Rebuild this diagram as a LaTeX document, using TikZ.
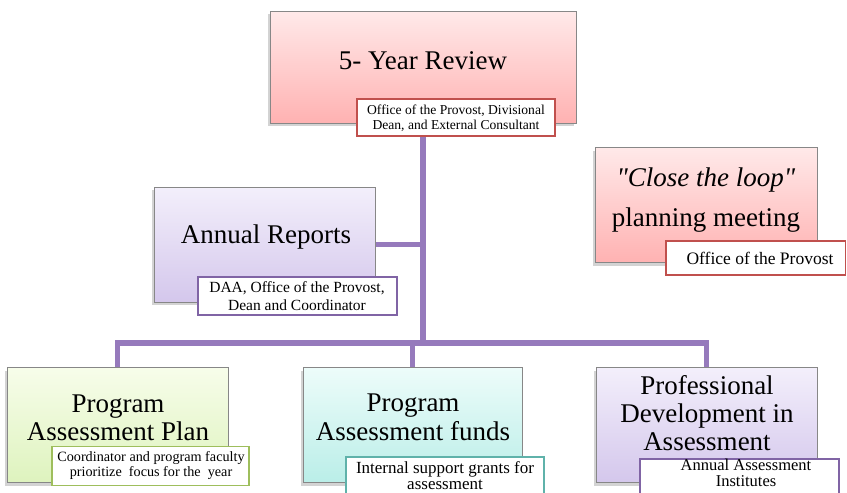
\documentclass[tikz,border=0pt]{standalone}
\usepackage{fontspec}
\setmainfont{Liberation Serif}
\usetikzlibrary{shadows,backgrounds}
\definecolor{conncol}{RGB}{150,122,188}
\definecolor{boxgray}{RGB}{135,135,135}
\definecolor{redtop}{RGB}{255,233,233}
\definecolor{redbot}{RGB}{255,178,178}
\definecolor{purtop}{RGB}{243,239,251}
\definecolor{purbot}{RGB}{212,199,236}
\definecolor{grntop}{RGB}{247,253,234}
\definecolor{grnbot}{RGB}{222,243,190}
\definecolor{cyntop}{RGB}{237,252,250}
\definecolor{cynbot}{RGB}{186,238,232}
\definecolor{redline}{RGB}{192,80,77}
\definecolor{purline}{RGB}{128,100,165}
\definecolor{grnline}{RGB}{158,190,92}
\definecolor{cynline}{RGB}{95,178,170}
\tikzset{
  mainbox/.style={draw=boxgray, line width=0.8pt, inner sep=0pt,
    drop shadow={shadow xshift=-2pt,shadow yshift=-3pt,opacity=0.35}},
  redbox/.style={mainbox, top color=redtop, bottom color=redbot},
  purbox/.style={mainbox, top color=purtop, bottom color=purbot},
  grnbox/.style={mainbox, top color=grntop, bottom color=grnbot},
  cynbox/.style={mainbox, top color=cyntop, bottom color=cynbot},
  subbox/.style={line width=1.1pt, fill=white, inner sep=0pt},
  maintext/.style={font=\fontsize{27}{28.5}\selectfont, align=center, inner sep=0pt},
  subtext/.style={align=center, inner sep=0pt},
  conn/.style={draw=conncol, line width=5.5pt}
}
\begin{document}
\begin{tikzpicture}[x=1pt,y=-1pt]
\useasboundingbox (0,0) rectangle (847,493);

% Top box
\node[redbox, minimum width=306pt, minimum height=112pt] (top) at (423,67) {};
\node[maintext] (toptext) at (423,61) {5- Year Review};
\node[subbox, draw=redline, minimum width=198pt, minimum height=37pt] (s1) at (456,117.5) {};
\node[subtext, font=\fontsize{13.6}{15}\selectfont] (s1t) at (456,118.5) {Office of the Provost, Divisional\\Dean, and External Consultant};

% Annual reports
\node[purbox, minimum width=221pt, minimum height=115pt] (ann) at (264.5,244.5) {};
\node[maintext] (anntext) at (266,237) {Annual Reports};
\node[subbox, draw=purline, minimum width=199pt, minimum height=38pt] (s2) at (297.5,296) {};
\node[subtext, font=\fontsize{15.5}{18}\selectfont] (s2t) at (297,296.5) {DAA, Office of the Provost,\\Dean and Coordinator};

% Close the loop
\node[redbox, minimum width=222pt, minimum height=115pt] (loop) at (706,205) {};
\node[maintext, font=\fontsize{27}{40}\selectfont] (looptext) at (706,200) {\textit{\textquotedbl Close the loop\textquotedbl}\\planning meeting};
\node[subbox, draw=redline, minimum width=179.5pt, minimum height=34pt] (s3) at (755.75,258) {};
\node[subtext, font=\fontsize{17.5}{20}\selectfont] (s3t) at (760,258.5) {Office of the Provost};

% Bottom boxes
\node[grnbox, minimum width=221pt, minimum height=115pt] (b1) at (117.5,425) {};
\node[maintext] (b1text) at (118,418) {Program\\Assessment Plan};
\node[subbox, draw=grnline, minimum width=197pt, minimum height=39pt] (s4) at (150.5,466) {};
\node[subtext, font=\fontsize{14.2}{14.5}\selectfont] (s4t) at (151,465.5) {Coordinator and program faculty\\prioritize~ focus for the~ year};

\node[cynbox, minimum width=219pt, minimum height=115pt] (b2) at (412.5,425) {};
\node[maintext] (b2text) at (413,417.5) {Program\\Assessment funds};
\node[subbox, draw=cynline, minimum width=198pt, minimum height=46pt] (s5) at (445,480) {};
\node[subtext, font=\fontsize{17}{16}\selectfont] (s5t) at (445,476) {Internal support grants for\\assessment};

\node[purbox, minimum width=221pt, minimum height=115pt] (b3) at (706.5,425) {};
\node[maintext, font=\fontsize{27}{28}\selectfont] (b3text) at (707,413.5) {Professional\\Development in\\Assessment};
\node[subbox, draw=purline, minimum width=199pt, minimum height=44pt] (s6) at (739.5,481) {};
\node[subtext, font=\fontsize{16.5}{16}\selectfont] (s6t) at (746,473) {Annual Assessment\\Institutes};

% Connectors
\coordinate (bus) at (423,343);
\begin{pgfonlayer}{background}
\draw[conn] (top.south) -- (bus);
\draw[conn] (ann.east) -- (ann.east -| top.south);
\draw[conn] (b1.north) |- (bus) -| (b3.north);
\draw[conn] (b2.north) -- (b2.north |- bus);
\end{pgfonlayer}
\end{tikzpicture}
\end{document}
